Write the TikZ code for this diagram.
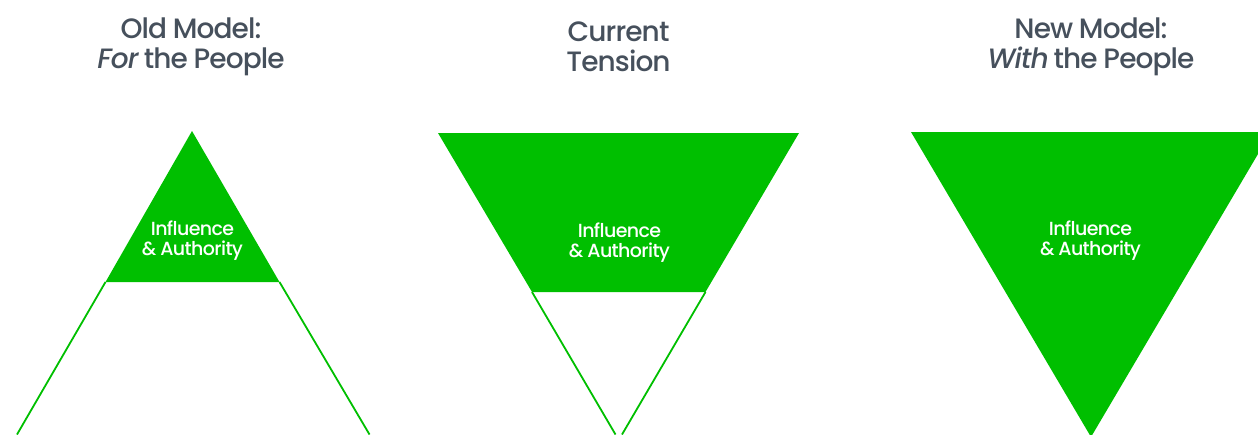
\documentclass[tikz,border=0pt]{standalone}
\usepackage{fontspec}
\setmainfont{Poppins Medium}[ItalicFont={Poppins Medium Italic},LetterSpace=-3.2,WordSpace=0.9]
\definecolor{tgreen}{HTML}{00BF00}
\definecolor{tgray}{HTML}{46505C}
\tikzset{
  band/.style={fill=tgreen,draw=none},
  outline/.style={draw=tgreen,line width=1.8pt},
  titletext/.style={text=tgray,align=center,inner sep=0pt,font=\fontsize{28}{30}\selectfont},
  bandtext/.style={text=white,align=center,inner sep=0pt,font=\fontsize{19}{20}\selectfont},
}
\begin{document}
\begin{tikzpicture}[x=1pt,y=-1pt]
\path[use as bounding box] (0,0) rectangle (1258,434);
\clip (0,0) rectangle (1258,434);
% old model
\coordinate (oa) at (192,131);
\coordinate (ol) at (105.5,282);
\coordinate (or) at (279.5,282);
\coordinate (obl) at (17,434.5);
\coordinate (obr) at (369.5,434.5);
\fill[band] (oa) -- (or) -- (ol) -- cycle;
\draw[outline] (ol) -- (obl);
\draw[outline] (or) -- (obr);
\node[titletext] (otitle) at (191,46.5) {Old Model:\\\textit{For} the People};
\node[bandtext] (otext) at (192.5,240.5) {Influence\\\&~Authority};
% current tension
\coordinate (ctl) at (438,133);
\coordinate (ctr) at (799,133);
\coordinate (cl) at (532,292);
\coordinate (cr) at (705.5,292);
\coordinate (cbl) at (615.5,434.5);
\coordinate (cbr) at (622,434.5);
\fill[band] (ctl) -- (ctr) -- (cr) -- (cl) -- cycle;
\draw[outline] (cl) -- (cbl);
\draw[outline] (cr) -- (cbr);
\node[titletext] (ctitle) at (618.5,46.5) {Current\\Tension};
\node[bandtext] (ctext) at (619.5,242.5) {Influence\\\&~Authority};
% new model
\coordinate (ntl) at (911,132);
\coordinate (ntr) at (1271,132);
\coordinate (nb) at (1091,437);
\fill[band] (ntl) -- (ntr) -- (nb) -- cycle;
\node[titletext] (ntitle) at (1091,46.5) {New Model:\\\textit{With} the People};
\node[bandtext] (ntext) at (1090.5,240.5) {Influence\\\&~Authority};
\end{tikzpicture}
\end{document}
